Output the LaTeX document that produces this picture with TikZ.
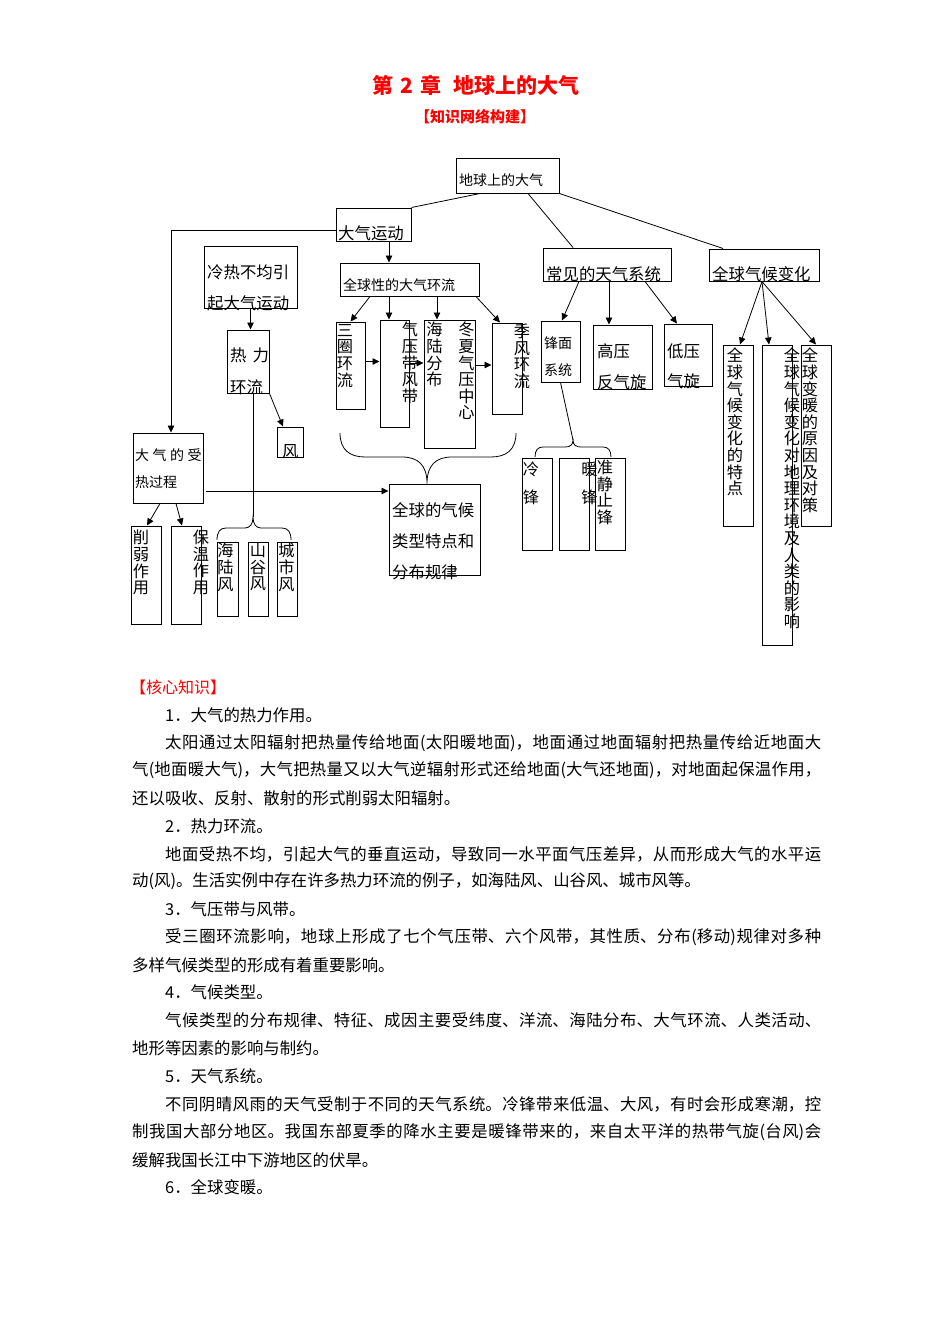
\documentclass[tikz,border=0pt]{standalone}
\usepackage{fontspec}
\setmainfont{Noto Sans CJK SC}
\usepackage{tikz}
\usetikzlibrary{arrows.meta, positioning, calc}
\XeTeXlinebreaklocale "zh"
\XeTeXlinebreakskip=0pt plus 2pt
\newcommand{\jline}[2]{\parbox{#1}{\noindent\parfillskip=0pt\relax #2\par}}
\tikzset{
  box/.style={draw=black, line width=1pt, inner sep=0pt},
  lblS/.style={inner sep=0pt, anchor=west, font=\fontsize{14}{16}\selectfont},
  lblL/.style={inner sep=0pt, anchor=west, font=\fontsize{16.4}{18}\selectfont},
  vtxt/.style={inner sep=0pt, anchor=north, align=center,
               font=\fontsize{16.2}{16.6}\selectfont},
  arr/.style={line width=0.8pt, -{Triangle[length=7pt, width=6.5pt]}},
  link/.style={line width=0.8pt},
  body/.style={inner sep=0pt, anchor=west, font=\fontsize{16.4}{20}\selectfont},
}

\begin{document}
\begin{tikzpicture}[x=1pt, y=-1pt]
    \useasboundingbox (0,0) rectangle (950,1344);

    %% heading
    \node[text=red, font=\fontsize{21}{24}\selectfont\bfseries] (title)
          at (476,85) {第\hspace{7pt}2\hspace{7pt}章\hspace{12pt}地球上的大气};
    \node[text=red, font=\fontsize{15}{18}\selectfont\bfseries] (sub)
          at (475,117) {【知识网络构建】};

    %% boxes
    \node[box, minimum width=103pt, minimum height=35pt] (root) at (507.5,175.5) {};
    \node[box, minimum width=75pt, minimum height=33pt] (dqyd) at (373.5,224.5) {};
    \node[box, minimum width=139pt, minimum height=33pt] (qqhl) at (409.5,279.5) {};
    \node[box, minimum width=93pt, minimum height=62pt] (lrbj) at (250.5,277) {};
    \node[box, minimum width=42pt, minimum height=63pt] (rlhl) at (248,361.5) {};
    \node[box, minimum width=26pt, minimum height=30pt] (feng) at (290,442) {};
    \node[box, minimum width=21pt, minimum height=74pt] (hlf) at (227.5,579) {};
    \node[box, minimum width=20pt, minimum height=74pt] (sgf) at (258,579) {};
    \node[box, minimum width=20pt, minimum height=74pt] (csf) at (287,579) {};
    \node[box, minimum width=70pt, minimum height=70pt] (srgc) at (168,468) {};
    \node[box, minimum width=30pt, minimum height=98pt] (xrzy) at (146,575) {};
    \node[box, minimum width=30pt, minimum height=98pt] (bwzy) at (186,575) {};
    \node[box, minimum width=91pt, minimum height=91pt] (qhlx) at (434.5,529.5) {};
    \node[box, minimum width=29pt, minimum height=87pt] (sqhl) at (350.5,365.5) {};
    \node[box, minimum width=29pt, minimum height=107pt] (qyd) at (394.5,373.5) {};
    \node[box, minimum width=51pt, minimum height=128pt] (hlfb) at (449.5,384) {};
    \node[box, minimum width=30pt, minimum height=91pt] (jfhl) at (507,368.5) {};
    \node[box, minimum width=128pt, minimum height=33pt] (cjtq) at (607,264.5) {};
    \node[box, minimum width=110pt, minimum height=32pt] (qhbh) at (764,265) {};
    \node[box, minimum width=39pt, minimum height=61pt] (fmxt) at (560.5,351.5) {};
    \node[box, minimum width=59pt, minimum height=64pt] (gy) at (622.5,357) {};
    \node[box, minimum width=48pt, minimum height=62pt] (dy) at (688,355) {};
    \node[box, minimum width=30pt, minimum height=92pt] (lf) at (537,504) {};
    \node[box, minimum width=30pt, minimum height=92pt] (nf) at (574,504) {};
    \node[box, minimum width=30pt, minimum height=92pt] (jzzf) at (610,504) {};
    \node[box, minimum width=30pt, minimum height=181pt] (tdtz) at (738,435.5) {};
    \node[box, minimum width=30pt, minimum height=300pt] (yx) at (777,495) {};
    \node[box, minimum width=30pt, minimum height=181pt] (yy) at (816,435.5) {};

    %% box texts
    \node[lblS] (t-root) at (459,180) {地球上的大气};
    \node[lblL] (t-dqyd) at (338,233) {大气运动};
    \node[lblS] (t-qqhl) at (343,285) {全球性的大气环流};
    \node[lblL] (t-lrbj1) at (207,272) {冷热不均引};
    \node[lblL] (t-lrbj2) at (207,303) {起大气运动};
    \node[lblL] (t-rl1) at (230,355) {热\hspace{6pt}力};
    \node[lblL] (t-rl2) at (230,387) {环流};
    \node[lblL] (t-feng) at (282,452) {风};
    \node[lblS] (t-sr1) at (135,455) {大\hspace{3.5pt}气\hspace{3.5pt}的\hspace{3.5pt}受};
    \node[lblS] (t-sr2) at (135,482) {热过程};
    \node[lblL] (t-qh1) at (392,510) {全球的气候};
    \node[lblL] (t-qh2) at (392,541) {类型特点和};
    \node[lblL] (t-qh3) at (392,572) {分布规律};
    \node[lblL] (t-cjtq) at (546,274) {常见的天气系统};
    \node[lblL] (t-qhbh) at (712,274) {全球气候变化};
    \node[lblS] (t-fm1) at (544,343) {锋面};
    \node[lblS] (t-fm2) at (544,370) {系统};
    \node[lblL] (t-gy1) at (597,351) {高压};
    \node[lblL] (t-gy2) at (597,382) {反气旋};
    \node[lblL] (t-dy1) at (667,351) {低压};
    \node[lblL] (t-dy2) at (667,381) {气旋};

    %% vertical texts
    \node[vtxt] (t-sqhl) at (345,324) {三\\圈\\环\\流};
    \node[vtxt] (t-qyd) at (410,322) {气\\压\\带\\风\\带};
    \node[vtxt] (t-hlfb) at (434.5,322) {海\\陆\\分\\布};
    \node[vtxt] (t-dxqy) at (466.5,322) {冬\\夏\\气\\压\\中\\心};
    \node[vtxt] (t-jfhl) at (522,324) {季\\风\\环\\流};
    \node[vtxt] (t-hlf) at (225.5,543) {海\\陆\\风};
    \node[vtxt] (t-sgf) at (258,543) {山\\谷\\风};
    \node[vtxt] (t-csf) at (286.5,543) {城\\市\\风};
    \node[vtxt] (t-xrzy) at (141,530) {削\\弱\\作\\用};
    \node[vtxt] (t-bwzy) at (201,530) {保\\温\\作\\用};
    \node[vtxt] (t-tdtz) at (735,348) {全\\球\\气\\候\\变\\化\\的\\特\\点};
    \node[vtxt] (t-yx) at (792,348)
          {全\\球\\气\\候\\变\\化\\对\\地\\理\\环\\境\\及\\人\\类\\的\\影\\响};
    \node[vtxt] (t-yy) at (810,348) {全\\球\\变\\暖\\的\\原\\因\\及\\对\\策};
    \node[vtxt] (t-lf) at (531,462) {冷\\[11pt]锋};
    \node[vtxt] (t-nf) at (589.5,462) {暖\\[11pt]锋};
    \node[vtxt] (t-jzzf) at (605,460) {准\\静\\止\\锋};

    %% connectors from the root
    \draw[link] ([xshift=-27.5pt]root.south) -- (dqyd.north east);
    \draw[link] ([xshift=20.5pt]root.south) -- ([xshift=-34pt]cjtq.north);
    \draw[link] (root.south east) -- ([xshift=-41pt]qhbh.north);

    %% atmospheric motion
    \coordinate (m1) at ([yshift=-6pt]dqyd.west);
    \draw[arr] (m1) -| ([xshift=3pt]srgc.north);
    \coordinate (m2) at ([xshift=15.5pt]dqyd.south);
    \draw[arr] (m2) -- (m2 |- qqhl.north);
    \draw[arr] (lrbj.south) -- (lrbj.south |- rlhl.north);
    \draw[arr] (rlhl.south east) -- ([xshift=-7pt]feng.north);
    \coordinate (t1) at (253,517);
    \draw[link] ([xshift=5pt]rlhl.south) -- (t1);
    \draw[link] (217,540) .. controls (217,532) and (220,528) .. (226,528)
          -- (245,528) .. controls (250,528) and (253,524) .. (t1)
          .. controls (253,524) and (256,528) .. (261,528)
          -- (282,528) .. controls (288,528) and (291,532) .. (291,540);

    %% heating of the atmosphere
    \draw[arr] ([xshift=-8pt]srgc.south) -- ([xshift=1pt]xrzy.north);
    \draw[arr] ([xshift=8pt]srgc.south) -- ([xshift=-4pt]bwzy.north);
    \coordinate (m3) at ([xshift=2pt, yshift=-23pt]srgc.east);
    \draw[arr] (m3) -- (m3 -| qhlx.west);

    %% general circulation
    \draw[arr] ([xshift=-39.5pt]qqhl.south) -- (sqhl.north);
    \coordinate (m4) at ([xshift=-20.5pt]qqhl.south);
    \draw[arr] (m4) -- (m4 |- qyd.north);
    \coordinate (m5) at ([xshift=27.5pt]qqhl.south);
    \draw[arr] (m5) -- (m5 |- hlfb.north);
    \draw[arr] ([xshift=66.5pt]qqhl.south) -- ([xshift=-7pt]jfhl.north);
    \coordinate (m6) at ([yshift=4pt]sqhl.east);
    \draw[arr] (m6) -- (m6 -| qyd.west);
    \coordinate (m7) at ([yshift=10.5pt]qyd.east);
    \draw[arr] (m7) -- (m7 -| hlfb.west);
    \coordinate (m8) at ([yshift=19pt]hlfb.east);
    \draw[arr] (m8) -- (m8 -| jfhl.west);
    \coordinate (t3) at ([xshift=-7.5pt]qhlx.north);
    \draw[link] (340,433) .. controls (340,450) and (350,457) .. (365,457)
          -- (402,457) .. controls (418,457) and (427,465) .. (t3)
          .. controls (427,465) and (436,457) .. (452,457)
          -- (491,457) .. controls (506,457) and (516,450) .. (516,433);

    %% weather systems
    \draw[arr] ([xshift=-28pt]cjtq.south) -- ([xshift=1.5pt]fmxt.north);
    \coordinate (m9) at ([xshift=2pt]cjtq.south);
    \draw[arr] (m9) -- (m9 |- gy.north);
    \draw[arr] ([xshift=38pt]cjtq.south) -- ([xshift=-11pt]dy.north);
    \coordinate (t2) at (573,440);
    \draw[link] (fmxt.south) -- (t2);
    \draw[link] (535,457) .. controls (535,450) and (538,447) .. (543,447)
          -- (565,447) .. controls (570,447) and (573,445) .. (t2)
          .. controls (573,445) and (576,447) .. (581,447)
          -- (603,447) .. controls (608,447) and (611,450) .. (611,457);

    %% global climate change
    \coordinate (m10) at ([xshift=-2pt]qhbh.south);
    \draw[arr] (m10) -- ([xshift=2pt]tdtz.north);
    \draw[arr] (m10) -- ([xshift=-8pt]yx.north);
    \draw[arr] (m10) -- (yy.north);

    %% core knowledge
    \node[body, text=red, font=\fontsize{16}{20}\selectfont] (hx) at (130,687) {【核心知识】};
    \node[body] (p0) at (165,715) {1．大气的热力作用。};
    \node[body] (p1) at (165,743)
          {\jline{656pt}{太阳通过太阳辐射把热量传给地面(太阳暖地面)，地面通过地面辐射把热量传给近地面大}};
    \node[body] (p2) at (132,770)
          {\jline{689pt}{气(地面暖大气)，大气把热量又以大气逆辐射形式还给地面(大气还地面)，对地面起保温作用，}};
    \node[body] (p3) at (132,798) {还以吸收、反射、散射的形式削弱太阳辐射。};
    \node[body] (p4) at (165,826) {2．热力环流。};
    \node[body] (p5) at (165,854)
          {\jline{656pt}{地面受热不均，引起大气的垂直运动，导致同一水平面气压差异，从而形成大气的水平运}};
    \node[body] (p6) at (132,881) {动(风)。生活实例中存在许多热力环流的例子，如海陆风、山谷风、城市风等。};
    \node[body] (p7) at (165,909) {3．气压带与风带。};
    \node[body] (p8) at (165,937)
          {\jline{656pt}{受三圈环流影响，地球上形成了七个气压带、六个风带，其性质、分布(移动)规律对多种}};
    \node[body] (p9) at (132,965) {多样气候类型的形成有着重要影响。};
    \node[body] (p10) at (165,992) {4．气候类型。};
    \node[body] (p11) at (165,1020)
          {\jline{656pt}{气候类型的分布规律、特征、成因主要受纬度、洋流、海陆分布、大气环流、人类活动、}};
    \node[body] (p12) at (132,1048) {地形等因素的影响与制约。};
    \node[body] (p13) at (165,1076) {5．天气系统。};
    \node[body] (p14) at (165,1104)
          {\jline{656pt}{不同阴晴风雨的天气受制于不同的天气系统。冷锋带来低温、大风，有时会形成寒潮，控}};
    \node[body] (p15) at (132,1132)
          {\jline{689pt}{制我国大部分地区。我国东部夏季的降水主要是暖锋带来的，来自太平洋的热带气旋(台风)会}};
    \node[body] (p16) at (132,1160) {缓解我国长江中下游地区的伏旱。};
    \node[body] (p17) at (165,1187) {6．全球变暖。};
\end{tikzpicture}
\end{document}
